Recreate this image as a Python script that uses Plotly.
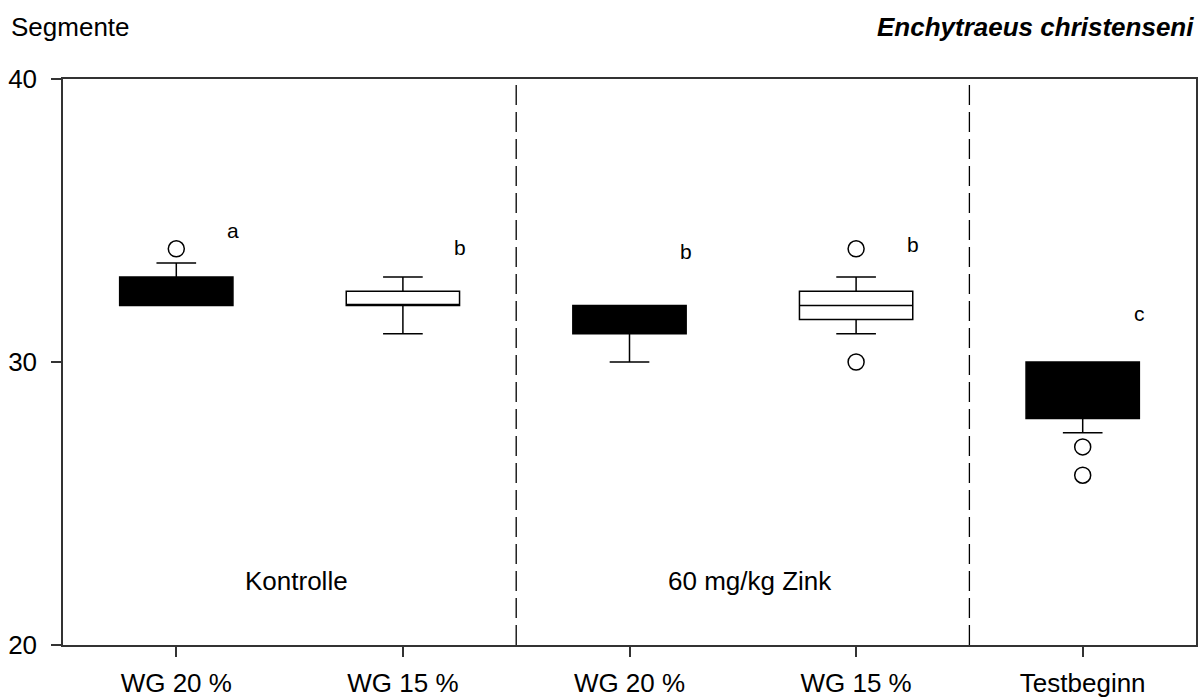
import plotly.graph_objects as go

# Treatment groups along the x axis
categories = ["WG 20 %", "WG 15 %", "WG 20 %", "WG 15 %", "Testbeginn"]
positions = [0, 1, 2, 3, 4]

# Box statistics: segment counts per group
q1 = [32, 32, 31, 31.5, 28]
median = [32, 32, 31.5, 32, 29]
q3 = [33, 32.5, 32, 32.5, 30]
lower_whisker = [32, 31, 30, 31, 27.5]
upper_whisker = [33.5, 33, 32, 33, 30]
filled = [True, False, True, False, True]

# Outlying values (group index, value)
outlier_group = [0, 3, 3, 4, 4]
outlier_value = [34, 34, 30, 27, 26]

# Significance letters
letters = ["a", "b", "b", "b", "c"]
letter_y = [34.65, 34.05, 33.9, 34.15, 31.7]

# Group labels
group_names = ["Kontrolle", "60 mg/kg Zink"]
group_x = [0.53, 2.53]
group_y = 22.25

# Separators between groups
separators = [1.5, 3.5]

FONT = "Liberation Sans, Arial, sans-serif"

fig = go.Figure()

for i, pos in enumerate(positions):
    fill = "black" if filled[i] else "white"
    fig.add_trace(go.Box(
        x=[pos],
        q1=[q1[i]], median=[median[i]], q3=[q3[i]],
        lowerfence=[lower_whisker[i]], upperfence=[upper_whisker[i]],
        width=0.5,
        whiskerwidth=0.35,
        fillcolor=fill,
        line=dict(color="black", width=1.5),
        boxpoints=False,
        showlegend=False,
        hoverinfo="skip",
    ))

fig.add_trace(go.Scatter(
    x=[positions[g] for g in outlier_group],
    y=outlier_value,
    mode="markers",
    marker=dict(symbol="circle-open", size=16, color="black",
                line=dict(color="black", width=1.5)),
    showlegend=False,
    hoverinfo="skip",
))

for i, pos in enumerate(positions):
    fig.add_annotation(x=pos + 0.25, y=letter_y[i], text=letters[i],
                       showarrow=False, xref="x", yref="y",
                       font=dict(family=FONT, size=21, color="black"))

for name, gx in zip(group_names, group_x):
    fig.add_annotation(x=gx, y=group_y, text=name, showarrow=False,
                       xref="x", yref="y",
                       font=dict(family=FONT, size=26, color="black"))

for sx in separators:
    fig.add_shape(type="line", x0=sx, x1=sx, y0=0, y1=1,
                  xref="x", yref="paper",
                  line=dict(color="black", width=1.3, dash="20px,7px"))

fig.add_annotation(x=0, y=1.092, xref="paper", yref="paper",
                   xanchor="left", yanchor="middle",
                   text="Segmente", showarrow=False, xshift=-54,
                   font=dict(family=FONT, size=26, color="black"))
fig.add_annotation(x=1, y=1.092, xref="paper", yref="paper",
                   xanchor="right", yanchor="middle",
                   text="<b><i>Enchytraeus christenseni</i></b>", showarrow=False,
                   font=dict(family=FONT, size=26, color="black"))

fig.update_layout(
    width=1199, height=697,
    margin=dict(l=63, r=3, t=79, b=52),
    paper_bgcolor="white", plot_bgcolor="white",
    boxmode="overlay",
    font=dict(family=FONT, size=26, color="black"),
)
fig.update_xaxes(
    range=[-0.5, 4.5], tickvals=positions, ticktext=categories,
    showline=True, mirror=True, linecolor="#333", linewidth=1.5,
    ticks="outside", ticklen=10, tickwidth=1.5, tickcolor="#333",
    showgrid=False, zeroline=False, ticklabelstandoff=4, automargin=False,
    tickfont=dict(family=FONT, size=26, color="black"),
)
fig.update_yaxes(
    range=[20, 40], tickvals=[20, 30, 40],
    showline=True, mirror=True, linecolor="#333", linewidth=1.5,
    ticks="outside", ticklen=10, tickwidth=1.5, tickcolor="#333",
    showgrid=False, zeroline=False, ticklabelstandoff=9, automargin=False,
    tickfont=dict(family=FONT, size=26, color="black"),
)

fig.write_html("out.html")
